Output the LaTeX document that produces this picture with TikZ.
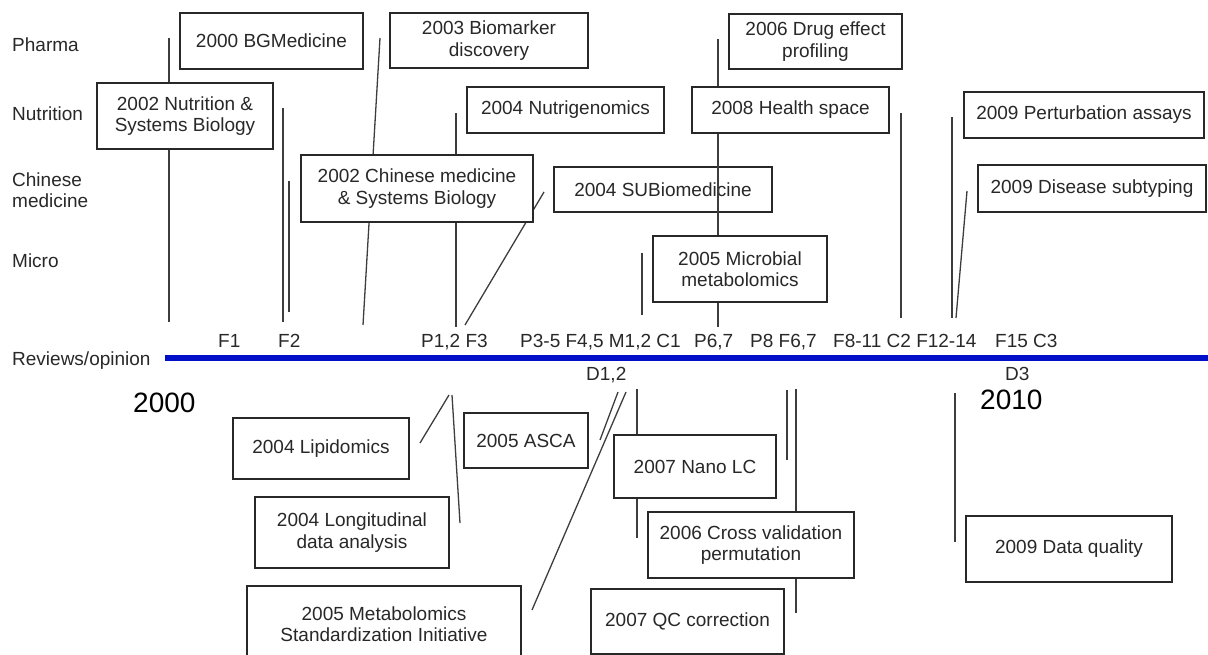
\documentclass[tikz,border=0pt]{standalone}
\usepackage{fontspec}
\setmainfont{Liberation Sans}
\definecolor{axisblue}{RGB}{0,16,200}
\definecolor{ink}{RGB}{40,40,40}
\newcommand{\lblfont}{\fontsize{19}{21.5}\selectfont}
\newcommand{\yearfont}{\fontsize{28}{30}\selectfont}
\begin{document}
\begin{tikzpicture}[x=1pt,y=-1pt,
  box/.style={draw=ink, fill=white, line width=1.3pt, align=center, inner sep=0pt, text=ink, font=\lblfont},
  lane/.style={anchor=base west, text=ink, font=\lblfont, inner sep=0pt},
  rev/.style={anchor=base west, text=ink, font=\lblfont, inner sep=0pt},
  yr/.style={anchor=base west, text=black, font=\yearfont, inner sep=0pt},
  tick/.style={draw=ink!90, line width=1.3pt}]
\useasboundingbox (0,0) rectangle (1208,655);
% lane labels
\node[lane] (pharma) at (12,52) {Pharma};
\node[lane] (nutri) at (12,121) {Nutrition};
\node[lane, anchor=west, align=left] (chinese) at (12,190) {Chinese\\medicine};
\node[lane] (micro) at (12,268) {Micro};
\node[lane] (reviews) at (12,365) {Reviews/opinion};
% axis
\coordinate (axL) at (165,357.5);
\coordinate (axR) at (1208,357.5);
\draw[axisblue, line width=6pt] (axL) -- (axR);
% review labels
\node[rev] (f1) at (218,347) {F1};
\node[rev] (f2) at (278,347) {F2};
\node[rev] (p12) at (421,347) {P1,2 F3};
\node[rev] (p35) at (520,347) {P3-5 F4,5 M1,2 C1};
\node[rev] (p67) at (694,347) {P6,7};
\node[rev] (p8) at (750,347) {P8 F6,7};
\node[rev] (f811) at (833,347) {F8-11 C2 F12-14};
\node[rev] (f15) at (995,347) {F15 C3};
\node[rev] (d12) at (586,380) {D1,2};
\node[rev] (d3) at (1005,380) {D3};
\node[yr] (y2000) at (133,412) {2000};
\node[yr] (y2010) at (980,409) {2010};
% top connector end points
\coordinate (a1) at (169,38);  \coordinate (a2) at (169,322);
\coordinate (b1) at (283,108); \coordinate (b2) at (283,322);
\coordinate (c1) at (289,181); \coordinate (c2) at (289,312);
\coordinate (d1) at (380,38);  \coordinate (d2) at (363,325);
\coordinate (e1) at (456,113); \coordinate (e2) at (456,327);
\coordinate (g1) at (544,192); \coordinate (g2) at (465,325);
\coordinate (h1) at (642,253); \coordinate (h2) at (642,315);
\coordinate (i1) at (901,113); \coordinate (i2) at (901,318);
\coordinate (j1) at (952,117); \coordinate (j2) at (952,318);
\coordinate (k1) at (967,191); \coordinate (k2) at (956,318);
\coordinate (m1) at (718,39);  \coordinate (m2) at (718,327);
% bottom connector end points
\coordinate (n1) at (449,395); \coordinate (n2) at (420,443);
\coordinate (o1) at (452,395); \coordinate (o2) at (460,523);
\coordinate (q1) at (618,392); \coordinate (q2) at (600,440);
\coordinate (r1) at (626,392); \coordinate (r2) at (532,610);
\coordinate (s1) at (637,389); \coordinate (s2) at (637,538);
\coordinate (t1) at (787,390); \coordinate (t2) at (787,460);
\coordinate (u1) at (796,389); \coordinate (u2) at (796,613);
\coordinate (v1) at (955,393); \coordinate (v2) at (955,542);
\foreach \p in {a,b,c,d,e,g,h,i,j,k,n,o,q,r,s,t,u,v}{\draw[tick] (\p1) -- (\p2);}
% SUBiomedicine box lies under the 718 line
\node[box, minimum width=218, minimum height=45] (subio) at (663,189.5) {2004 SUBiomedicine};
\draw[tick] (m1) -- (m2);
% top boxes
\node[box, minimum width=183, minimum height=56] (bg) at (271.5,41) {2000 BGMedicine};
\node[box, minimum width=176, minimum height=66] (nut) at (185,116) {2002 Nutrition \&\\Systems Biology};
\node[box, minimum width=232, minimum height=67] (chin) at (417,188.5) {2002 Chinese medicine\\\& Systems Biology};
\node[box, minimum width=198, minimum height=55] (bio) at (489,40.5) {2003 Biomarker\\discovery};
\node[box, minimum width=197, minimum height=46] (ngen) at (565.5,110) {2004 Nutrigenomics};
\node[box, minimum width=174, minimum height=66] (mic) at (740,269) {2005 Microbial\\metabolomics};
\node[box, minimum width=173, minimum height=55] (drug) at (815.5,41.5) {2006 Drug effect\\profiling};
\node[box, minimum width=197, minimum height=46] (health) at (790.5,110) {2008 Health space};
\node[box, minimum width=240, minimum height=46] (pert) at (1084,115) {2009 Perturbation assays};
\node[box, minimum width=228, minimum height=47] (dis) at (1092,188.5) {2009 Disease subtyping};
% bottom boxes
\node[box, minimum width=176, minimum height=61] (lip) at (321,448.5) {2004 Lipidomics};
\node[box, minimum width=124, minimum height=55] (asca) at (526,440.5) {2005 ASCA};
\node[box, minimum width=194, minimum height=71] (long) at (352,532.5) {2004 Longitudinal\\data analysis};
\node[box, minimum width=274, minimum height=76] (msi) at (384,624) {2005 Metabolomics\\Standardization Initiative};
\node[box, minimum width=162, minimum height=63] (nano) at (695,466.5) {2007 Nano LC};
\node[box, minimum width=206, minimum height=66] (cv) at (751,545) {2006 Cross validation\\permutation};
\node[box, minimum width=193, minimum height=65] (qc) at (687.5,621.5) {2007 QC correction};
\node[box, minimum width=206, minimum height=66] (dq) at (1069,549) {2009 Data quality};
\end{tikzpicture}
\end{document}
